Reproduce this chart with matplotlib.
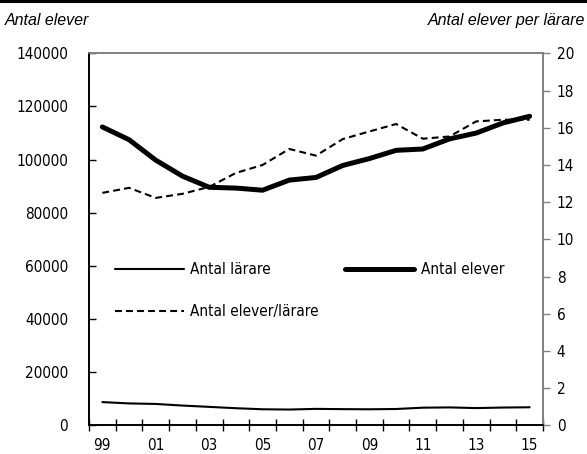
import matplotlib
matplotlib.use("Agg")
import matplotlib.pyplot as plt
from matplotlib.lines import Line2D

# school years 1999-2015, shown as two-digit labels on odd years
years = list(range(1999, 2016))
year_labels = ["99", "01", "03", "05", "07", "09", "11", "13", "15"]

larare = [8800, 8300, 8100, 7500, 7000, 6500, 6100, 6000, 6250, 6150,
          6100, 6200, 6700, 6800, 6550, 6750, 6850]
elever = [112300, 107500, 99800, 93800, 89600, 89300, 88500, 92300, 93300,
          97800, 100400, 103500, 104000, 107800, 110000, 113800, 116300]
elever_per_larare = [12.5, 12.77, 12.23, 12.45, 12.82, 13.57, 14.0, 14.86, 14.5,
                     15.39, 15.8, 16.2, 15.41, 15.53, 16.34, 16.43, 16.43]

left_ticks = [0, 20000, 40000, 60000, 80000, 100000, 120000, 140000]
right_ticks = [0, 2, 4, 6, 8, 10, 12, 14, 16, 18, 20]

NARROW = ["Liberation Sans Narrow", "DejaVu Sans"]
GREY = "#808080"


def main():
    plt.rcParams["font.family"] = NARROW
    plt.rcParams["font.stretch"] = "condensed"
    fig = plt.figure(figsize=(5.87, 4.54), dpi=100)
    ax = fig.add_axes([0.1516, 0.0628, 0.7734, 0.8198])
    ax2 = ax.twinx()

    x = list(range(len(years)))
    l1, = ax.plot(x, larare, color="black", lw=1.5, solid_capstyle="round")
    l2, = ax.plot(x, elever, color="black", lw=3.6, solid_capstyle="round")
    l3, = ax2.plot(x, elever_per_larare, color="black", lw=1.5,
                   dashes=(3.3, 2))

    ax.set_xlim(-0.5, len(years) - 0.5)
    ax.set_ylim(0, 140000)
    ax2.set_ylim(0, 20)

    # year bins: tick marks on bin edges, labels in bin centres
    ax.set_xticks([i - 0.5 for i in range(len(years) + 1)])
    ax.set_xticklabels([])
    ax.set_xticks(x[::2], minor=True)
    ax.set_xticklabels(year_labels, minor=True)
    ax.tick_params(axis="x", which="major", direction="inout", length=9,
                   width=1, color="black")
    ax.tick_params(axis="x", which="minor", length=0, labelsize=11, pad=9)

    ax.set_yticks(left_ticks)
    ax.set_yticklabels([str(v) for v in left_ticks])
    ax.tick_params(axis="y", direction="in", length=5, width=1,
                   labelsize=11, pad=15)

    ax2.set_yticks(right_ticks)
    ax2.tick_params(axis="y", direction="out", length=5, width=1,
                    color=GREY, labelsize=11, pad=5)

    for a in (ax, ax2):
        a.spines["left"].set_color("black")
        a.spines["bottom"].set_color("black")
        a.spines["top"].set_color(GREY)
        a.spines["right"].set_color(GREY)
        for s in a.spines.values():
            s.set_linewidth(1.2)

    ax.legend([l1, l3, l2],
              ["Antal lärare", "Antal elever/lärare", "Antal elever"],
              ncol=2, loc="upper left", bbox_to_anchor=(0.057, 0.438),
              frameon=False, fontsize=11, handlelength=4.5,
              handletextpad=0.45, columnspacing=1.7, labelspacing=1.75,
              borderpad=0, borderaxespad=0)

    fig.text(0.009, 0.955, "Antal elever", family="Liberation Sans",
             style="italic", stretch="normal", fontsize=11.5,
             va="center", ha="left")
    fig.text(0.997, 0.955, "Antal elever per lärare", family="Liberation Sans",
             style="italic", stretch="normal", fontsize=11.5,
             va="center", ha="right")
    fig.add_artist(Line2D([0, 1], [0.998, 0.998], color="black", lw=2.2,
                          transform=fig.transFigure))

    fig.savefig("out.png", dpi=100)
    plt.close(fig)


if __name__ == "__main__":
    main()
